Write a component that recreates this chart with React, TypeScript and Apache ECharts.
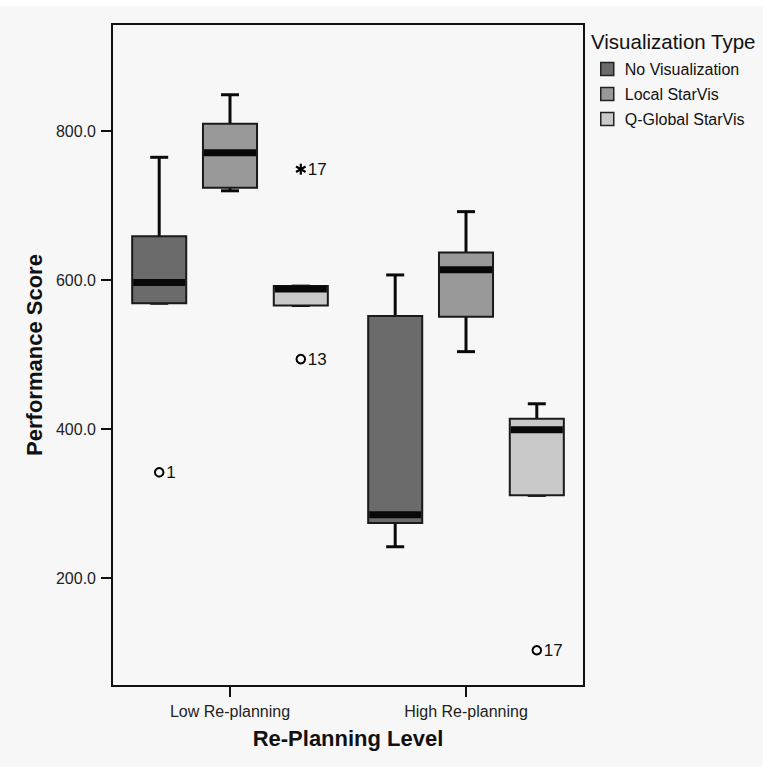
import React, { useEffect, useRef } from "react";
import * as echarts from "echarts";

const categories = ["Low Re-planning", "High Re-planning"];
const groups = ["No Visualization", "Local StarVis", "Q-Global StarVis"];
const groupColors = ["#6b6b6b", "#999999", "#c9c9c9"];
// [min, Q1, median, Q3, max] for each category
const noVisStats = [
  [569, 569, 597, 659, 765],
  [242, 274, 285, 552, 607],
];
const localStats = [
  [720, 724, 771, 810, 849],
  [504, 551, 614, 637, 692],
];
const qGlobalStats = [
  [566, 566, 588, 592, 592],
  [311, 311, 399, 414, 434],
];
const outlierCategory = [0, 0, 0, 1];
const outlierGroup = [0, 2, 2, 2];
const outlierValue = [342, 494, 749, 103];
const outlierLabel = ["1", "13", "17", "17"];
const outlierExtreme = [false, false, true, false];
const yTicks = [200, 400, 600, 800];

const GROUP_OFFSETS = [-0.3, 0, 0.3];
const BOX_FRAC = 0.229;
const FONT = "'Liberation Sans', Arial, sans-serif";

const statsList = [noVisStats, localStats, qGlobalStats];

function makeBoxRender(gi: number) {
  return (params: any, api: any) => {
    const cat = api.value(0);
    const mn = api.value(1);
    const q1 = api.value(2);
    const md = api.value(3);
    const q3 = api.value(4);
    const mx = api.value(5);
    const band = api.size([1, 0])[0];
    const cx = api.coord([cat, md])[0] + GROUP_OFFSETS[gi] * band;
    const bw = BOX_FRAC * band;
    const y = (v: number) => api.coord([cat, v])[1];
    const capW = 18;
    const lineStyle = { stroke: "#0a0a0a", lineWidth: 3 };
    const children: any[] = [
      { type: "line", shape: { x1: cx, y1: y(mx), x2: cx, y2: y(q3) }, style: lineStyle },
      { type: "line", shape: { x1: cx, y1: y(q1), x2: cx, y2: y(mn) }, style: lineStyle },
      { type: "line", shape: { x1: cx - capW / 2, y1: y(mx), x2: cx + capW / 2, y2: y(mx) }, style: lineStyle },
      { type: "line", shape: { x1: cx - capW / 2, y1: y(mn), x2: cx + capW / 2, y2: y(mn) }, style: lineStyle },
      {
        type: "rect",
        shape: { x: cx - bw / 2, y: y(q3), width: bw, height: y(q1) - y(q3) },
        style: { fill: groupColors[gi], stroke: "#1a1a1a", lineWidth: 2 },
      },
      {
        type: "rect",
        shape: { x: cx - bw / 2 + 1, y: y(md) - 3.5, width: bw - 2, height: 7 },
        style: { fill: "#080808" },
      },
    ];
    return { type: "group", children };
  };
}

function outlierRender(params: any, api: any) {
  const i = params.dataIndex;
  const cat = api.value(0);
  const v = api.value(1);
  const gi = api.value(2);
  const band = api.size([1, 0])[0];
  const pt = api.coord([cat, v]);
  const cx = pt[0] + GROUP_OFFSETS[gi] * band;
  const cy = pt[1];
  const children: any[] = [];
  if (outlierExtreme[i]) {
    const r = 5.5;
    for (let k = 0; k < 3; k++) {
      const a = Math.PI / 2 + (k * Math.PI) / 3;
      children.push({
        type: "line",
        shape: { x1: cx - r * Math.cos(a), y1: cy - r * Math.sin(a), x2: cx + r * Math.cos(a), y2: cy + r * Math.sin(a) },
        style: { stroke: "#000", lineWidth: 2.2 },
      });
    }
  } else {
    children.push({
      type: "circle",
      shape: { cx, cy, r: 4.3 },
      style: { fill: "none", stroke: "#000", lineWidth: 2 },
    });
  }
  children.push({
    type: "text",
    x: cx + 7,
    y: cy + 0.5,
    style: {
      text: outlierLabel[i],
      fontSize: 17,
      fontFamily: FONT,
      fill: "#111",
      verticalAlign: "middle",
      align: "left",
    },
  });
  return { type: "group", children };
}

export default function App() {
  const ref = useRef<HTMLDivElement>(null);
  useEffect(() => {
    if (!ref.current) return;
    const chart = echarts.init(ref.current, undefined, { renderer: "svg" });
    const boxSeries = groups.map((name, gi) => ({
      name,
      type: "custom",
      renderItem: makeBoxRender(gi),
      itemStyle: { color: groupColors[gi] },
      encode: { x: 0, y: [1, 2, 3, 4, 5] },
      data: statsList[gi].map((s, ci) => [ci, ...s]),
      z: 2,
    }));
    const outlierSeries = {
      name: "outliers",
      type: "custom",
      renderItem: outlierRender,
      encode: { x: 0, y: 1 },
      data: outlierValue.map((v, i) => [outlierCategory[i], v, outlierGroup[i]]),
      z: 3,
    };
    chart.setOption({
      animation: false,
      backgroundColor: "#f7f7f7",
      textStyle: { fontFamily: FONT },
      title: {
        text: "Visualization Type",
        left: 591,
        top: 31,
        padding: 0,
        textStyle: { fontSize: 20.5, fontWeight: "normal", color: "#111", fontFamily: FONT },
      },
      legend: {
        data: groups,
        orient: "vertical",
        left: 600,
        top: 61,
        padding: 0,
        icon: "rect",
        itemWidth: 13,
        itemHeight: 13,
        itemGap: 9,
        textStyle: { fontSize: 16, color: "#111", fontFamily: FONT, padding: [0, 0, 0, 6] },
        itemStyle: { borderColor: "#222", borderWidth: 1.5 },
      },
      grid: {
        left: 112,
        top: 24,
        width: 472,
        height: 662,
        show: true,
        borderColor: "#111",
        borderWidth: 2,
        backgroundColor: "transparent",
        containLabel: false,
        outerBoundsMode: "none",
      },
      xAxis: {
        type: "category",
        data: categories,
        axisLine: { show: false },
        axisTick: { show: true, alignWithLabel: true, length: 11, lineStyle: { color: "#111", width: 2 } },
        axisLabel: { fontSize: 16, color: "#222", margin: 17, fontFamily: FONT },
        name: "Re-Planning Level",
        nameLocation: "middle",
        nameGap: 41,
        nameTextStyle: { fontSize: 22, fontWeight: "bold", color: "#111", fontFamily: FONT },
        splitLine: { show: false },
      },
      yAxis: {
        type: "value",
        min: 55,
        max: 944,
        axisLine: { show: false },
        axisTick: { show: true, length: 11, customValues: yTicks, lineStyle: { color: "#111", width: 2 } },
        axisLabel: {
          fontSize: 16,
          color: "#222",
          margin: 16,
          customValues: yTicks,
          fontFamily: FONT,
          formatter: (v: number) => v.toFixed(1),
        },
        splitLine: { show: false },
        name: "Performance Score",
        nameLocation: "middle",
        nameRotate: 90,
        nameGap: 55,
        nameTextStyle: { fontSize: 22, fontWeight: "bold", color: "#111", fontFamily: FONT },
      },
      graphic: [
        { type: "rect", left: 0, top: 0, shape: { width: 763, height: 6 }, style: { fill: "#ffffff" }, z: -1 },
      ],
      series: [...boxSeries, outlierSeries],
    });
    return () => chart.dispose();
  }, []);
  return (
    <div
      ref={ref}
      style={{ position: "fixed", left: 0, top: 0, width: 763, height: 767 }}
    />
  );
}
